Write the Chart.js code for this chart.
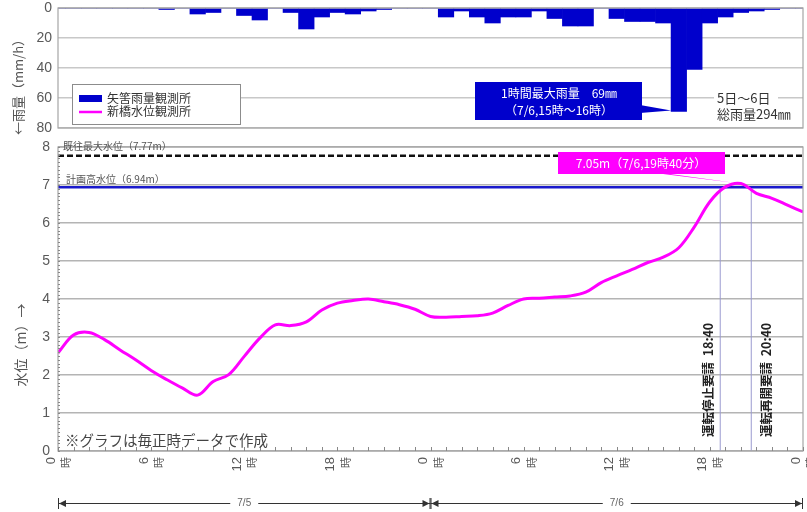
<!DOCTYPE html>
<html lang="ja">
<head>
  <meta charset="UTF-8">
  <title>矢筈雨量観測所・新橋水位観測所</title>
  <style>
    body { margin: 0; background: #fff; }
    #wrap { position: relative; width: 807px; height: 512px; }
    canvas { position: absolute; left: 0; }
    #rain-chart { top: 0; }
    #level-chart { top: 135px; }
  </style>
</head>
<body>
  <div id="wrap">
    <canvas id="rain-chart" width="807" height="135"></canvas>
    <canvas id="level-chart" width="807" height="377"></canvas>
  </div>

  <script src="https://cdn.jsdelivr.net/npm/chart.js"></script>
  <script>
    // hours from 7/5 0時 to 7/7 0時
    const hours = [0, 1, 2, 3, 4, 5, 6, 7, 8, 9, 10, 11, 12, 13, 14, 15, 16, 17, 18, 19, 20, 21, 22, 23,
                   24, 25, 26, 27, 28, 29, 30, 31, 32, 33, 34, 35, 36, 37, 38, 39, 40, 41, 42, 43, 44, 45, 46, 47, 48];
    // hourly rainfall (mm/h), 矢筈
    const rainfall = [0, 0, 0, 0, 0, 0, 0, 1, 0, 4, 3, 0, 5, 8, 0, 3, 14, 6, 3, 4, 2, 1, 0, 0,
                      0, 6, 2, 6, 10, 6, 6, 2, 7, 12, 12, 0, 7, 9, 9, 10, 69, 41, 10, 6, 3, 2, 1, 0, 0];
    // hourly water level (m), 新橋
    const waterLevel = [2.58, 3.05, 3.12, 2.93, 2.66, 2.40, 2.12, 1.88, 1.66, 1.47, 1.83, 2.01, 2.49, 2.97, 3.32, 3.30, 3.40, 3.71, 3.89, 3.96, 4.00, 3.93, 3.85, 3.73,
                        3.54, 3.52, 3.54, 3.56, 3.63, 3.83, 4.00, 4.02, 4.05, 4.08, 4.18, 4.43, 4.61, 4.78, 4.96, 5.10, 5.35, 5.90, 6.56, 6.95, 7.04, 6.78, 6.65, 6.47, 6.29];

    const rainTicks = [0, 20, 40, 60, 80];
    const levelTicks = [0, 1, 2, 3, 4, 5, 6, 7, 8];
    const labelHours = [0, 6, 12, 18, 24, 30, 36, 42, 48];
    const hourLabels = ['0', '6', '12', '18', '0', '6', '12', '18', '0'];
    const dayRanges = [[0, 24, '7/5'], [24, 48, '7/6']];

    const maxLevel = 7.77;   // 既往最大水位
    const planLevel = 6.94;  // 計画高水位
    const peakTime = 43 + 40 / 60, peakLevel = 7.05;
    const stopTime = 42 + 40 / 60;    // 18:40
    const resumeTime = 44 + 40 / 60;  // 20:40
    const maxRainHour = 40, maxRain = 69;

    const JP = "'Noto Sans CJK JP', sans-serif";
    const NUM = "'Liberation Sans', Arial, sans-serif";
    Chart.defaults.font.family = NUM;

    function txt(ctx, s, x, y, font, color, align) {
      ctx.font = font;
      ctx.fillStyle = color;
      ctx.textAlign = align || 'left';
      ctx.textBaseline = 'middle';
      ctx.fillText(s, x, y);
    }

    // keep the plot area where layout.padding puts it
    function fixAxis(s) {
      s.width = 58;
      s.paddingTop = 0;
      s.paddingBottom = 0;
    }

    // frame, legend, notes for the rain panel
    const rainDecor = {
      id: 'rainDecor',
      afterDraw(chart) {
        const ctx = chart.ctx, a = chart.chartArea;
        const x = chart.scales.x, y = chart.scales.y;
        ctx.save();
        ctx.strokeStyle = '#a6a6a6';
        ctx.lineWidth = 1.2;
        ctx.strokeRect(a.left, a.top, a.right - a.left, a.bottom - a.top);

        // axis title
        ctx.save();
        ctx.translate(18, 84);
        ctx.rotate(-Math.PI / 2);
        txt(ctx, '←雨量（mm/h）', 0, 0, '13px ' + JP, '#555', 'center');
        ctx.restore();

        // legend
        ctx.fillStyle = '#fff';
        ctx.fillRect(72, 84, 169, 41);
        ctx.strokeStyle = '#8c8c8c';
        ctx.lineWidth = 1;
        ctx.strokeRect(72.5, 84.5, 168, 40);
        ctx.fillStyle = '#0000cc';
        ctx.fillRect(79, 95, 23, 7);
        ctx.strokeStyle = '#ff00ff';
        ctx.lineWidth = 2.5;
        ctx.beginPath(); ctx.moveTo(79, 112); ctx.lineTo(102, 112); ctx.stroke();
        txt(ctx, chart.data.datasets[0].label, 107, 98, '12px ' + JP, '#333');
        txt(ctx, '新橋水位観測所', 107, 111, '12px ' + JP, '#333');

        // max rainfall callout
        const half = (x.getPixelForValue(1) - x.getPixelForValue(0)) / 2;
        const tipX = x.getPixelForValue(maxRainHour) - half, tipY = y.getPixelForValue(maxRain);
        ctx.fillStyle = '#0000cc';
        ctx.fillRect(475, 82, 167, 38);
        ctx.beginPath();
        ctx.moveTo(640, 105); ctx.lineTo(tipX, tipY - 1); ctx.lineTo(640, 113); ctx.closePath();
        ctx.fill();
        txt(ctx, '1時間最大雨量　69㎜', 559, 93, '12px ' + JP, '#fff', 'center');
        txt(ctx, '（7/6,15時～16時）', 559, 110, '12px ' + JP, '#fff', 'center');

        // total rainfall
        ctx.fillStyle = '#fff';
        ctx.fillRect(714, 89, 64, 32);
        txt(ctx, '5日～6日', 717, 98, '13px ' + JP, '#333');
        txt(ctx, '総雨量294㎜', 717, 114, '13px ' + JP, '#333');
        ctx.restore();
      }
    };

    // frame, ticks, labels and notes for the level panel
    const levelDecor = {
      id: 'levelDecor',
      afterDraw(chart) {
        const ctx = chart.ctx, a = chart.chartArea;
        const x = chart.scales.x, y = chart.scales.y;
        ctx.save();
        ctx.strokeStyle = '#a6a6a6';
        ctx.lineWidth = 1.2;
        ctx.strokeRect(a.left, a.top, a.right - a.left, a.bottom - a.top);

        // minor ticks
        ctx.strokeStyle = '#888';
        ctx.lineWidth = 1;
        ctx.beginPath();
        hours.forEach(h => {
          const px = Math.round(x.getPixelForValue(h)) + 0.5;
          ctx.moveTo(px, a.bottom); ctx.lineTo(px, a.bottom - 4);
        });
        for (let i = 0; i <= 80; i++) {
          const py = Math.round(y.getPixelForValue(i / 10)) + 0.5;
          ctx.moveTo(a.left, py); ctx.lineTo(a.left + 2, py);
        }
        ctx.stroke();

        // x labels (rotated)
        labelHours.forEach((h, i) => {
          ctx.save();
          ctx.translate(x.getPixelForValue(h), a.bottom + 6);
          ctx.rotate(-Math.PI / 2);
          txt(ctx, hourLabels[i], 0, -7, '13px ' + NUM, '#595959', 'right');
          txt(ctx, '時', 0, 8, '11px ' + JP, '#595959', 'right');
          ctx.restore();
        });

        // date ranges
        const ay = 368;
        ctx.strokeStyle = '#333';
        ctx.lineWidth = 1;
        dayRanges.forEach(([s, e, label]) => {
          const x0 = x.getPixelForValue(s), x1 = x.getPixelForValue(e), xm = (x0 + x1) / 2;
          ctx.beginPath();
          ctx.moveTo(x0, ay + 0.5); ctx.lineTo(xm - 14, ay + 0.5);
          ctx.moveTo(xm + 14, ay + 0.5); ctx.lineTo(x1, ay + 0.5);
          ctx.moveTo(x0 + 0.5, ay - 5); ctx.lineTo(x0 + 0.5, ay + 6);
          ctx.moveTo(x1 - 0.5, ay - 5); ctx.lineTo(x1 - 0.5, ay + 6);
          ctx.stroke();
          ctx.fillStyle = '#333';
          ctx.beginPath();
          ctx.moveTo(x0 + 1, ay + 0.5); ctx.lineTo(x0 + 8, ay - 3); ctx.lineTo(x0 + 8, ay + 4); ctx.closePath();
          ctx.moveTo(x1 - 1, ay + 0.5); ctx.lineTo(x1 - 8, ay - 3); ctx.lineTo(x1 - 8, ay + 4); ctx.closePath();
          ctx.fill();
          txt(ctx, label, xm, ay, '10px ' + NUM, '#666', 'center');
        });

        // axis title
        ctx.save();
        ctx.translate(21, 210);
        ctx.rotate(-Math.PI / 2);
        txt(ctx, '水位（m）→', 0, 0, '14px ' + JP, '#555', 'center');
        ctx.restore();

        // reference line labels
        txt(ctx, '既往最大水位（7.77m）', 63, y.getPixelForValue(maxLevel) - 10, '10px ' + JP, '#555');
        txt(ctx, '計画高水位（6.94m）', 66, y.getPixelForValue(planLevel) - 8, '10px ' + JP, '#555');

        // peak callout
        const pkX = x.getPixelForValue(peakTime), pkY = y.getPixelForValue(peakLevel);
        ctx.fillStyle = '#ff00ff';
        ctx.beginPath();
        ctx.moveTo(655, 38); ctx.lineTo(pkX, pkY); ctx.lineTo(663, 38); ctx.closePath();
        ctx.fill();
        ctx.fillRect(558, 17, 167, 22);
        txt(ctx, '7.05m（7/6,19時40分）', 641, 28, '12px ' + JP, '#fff', 'center');

        // request labels
        [[stopTime, -12, '運転停止要請  18:40'], [resumeTime, 15, '運転再開要請  20:40']].forEach(([t, dx, s]) => {
          ctx.save();
          ctx.translate(x.getPixelForValue(t) + dx, 302);
          ctx.rotate(-Math.PI / 2);
          txt(ctx, s, 0, 0, 'bold 12.5px ' + JP, '#222', 'left');
          ctx.restore();
        });

        // note
        txt(ctx, '※グラフは毎正時データで作成', 65, 305, '14.5px ' + JP, '#444');
        ctx.restore();
      }
    };

    const rainChart = new Chart(document.getElementById('rain-chart'), {
      type: 'bar',
      data: {
        labels: hours,
        datasets: [{
          label: '矢筈雨量観測所',
          data: rainfall,
          backgroundColor: '#0000cc',
          borderWidth: 0,
          barPercentage: 1,
          categoryPercentage: 1
        }]
      },
      options: {
        responsive: false,
        animation: false,
        layout: { padding: { top: 8, right: 4, bottom: 7, left: 0 } },
        plugins: { legend: { display: false }, tooltip: { enabled: false } },
        scales: {
          x: { display: false, offset: false },
          y: {
            reverse: true, min: 0, max: 80,
            afterBuildTicks: s => { s.ticks = rainTicks.map(v => ({ value: v })); },
            afterFit: fixAxis,
            ticks: { color: '#595959', font: { size: 14 }, padding: 6 },
            grid: { color: '#c8c8c8', lineWidth: 1.5, drawTicks: false },
            border: { display: false }
          }
        }
      },
      plugins: [rainDecor]
    });

    const levelChart = new Chart(document.getElementById('level-chart'), {
      type: 'line',
      data: {
        datasets: [
          { label: '新橋水位観測所', data: hours.map((h, i) => ({ x: h, y: waterLevel[i] })),
            borderColor: '#ff00ff', borderWidth: 3, pointRadius: 0, tension: 0.35 },
          { label: '既往最大水位', data: [{ x: 0, y: maxLevel }, { x: 48, y: maxLevel }],
            borderColor: '#111', borderWidth: 2.5, borderDash: [6, 3], pointRadius: 0 },
          { label: '計画高水位', data: [{ x: 0, y: planLevel }, { x: 48, y: planLevel }],
            borderColor: '#1a1acc', borderWidth: 2.5, pointRadius: 0 },
          { label: '運転停止要請', data: [{ x: stopTime, y: 0 }, { x: stopTime, y: planLevel }],
            borderColor: '#9a9ad0', borderWidth: 1, pointRadius: 0 },
          { label: '運転再開要請', data: [{ x: resumeTime, y: 0 }, { x: resumeTime, y: planLevel }],
            borderColor: '#9a9ad0', borderWidth: 1, pointRadius: 0 }
        ]
      },
      options: {
        responsive: false,
        animation: false,
        layout: { padding: { top: 12, right: 4, bottom: 0, left: 0 } },
        plugins: { legend: { display: false }, tooltip: { enabled: false } },
        scales: {
          x: {
            type: 'linear', min: 0, max: 48,
            ticks: { display: false, stepSize: 1 },
            grid: { display: false },
            border: { display: false },
            afterFit: s => { s.height = 61; }
          },
          y: {
            min: 0, max: 8,
            afterBuildTicks: s => { s.ticks = levelTicks.map(v => ({ value: v })); },
            afterFit: fixAxis,
            ticks: { color: '#595959', font: { size: 14 }, padding: 8 },
            grid: { color: '#b4b4b4', lineWidth: 1.5, drawTicks: false },
            border: { display: false }
          }
        }
      },
      plugins: [levelDecor]
    });
  </script>
</body>
</html>
